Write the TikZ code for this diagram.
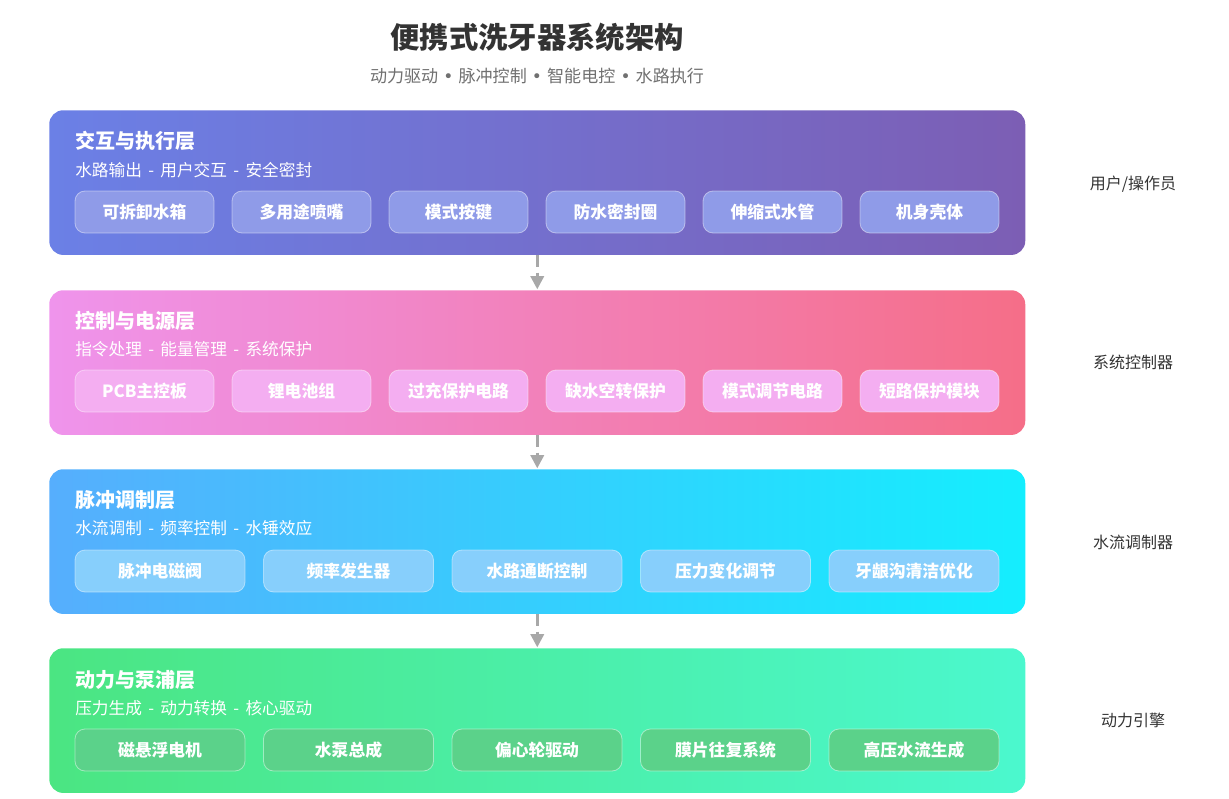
\documentclass[tikz,border=0pt]{standalone}
\usepackage{fontspec}
\setmainfont{Noto Sans CJK SC}
\newfontfamily\dotfont{DejaVu Sans}
\usetikzlibrary{arrows.meta,positioning}

\definecolor{titlegray}{HTML}{333333}
\definecolor{subgray}{HTML}{707070}
\definecolor{arrowgray}{HTML}{A8A8A8}
% layer gradients
\definecolor{userL}{HTML}{6B80E6}
\definecolor{userR}{HTML}{7C5EB4}
\definecolor{ctrlL}{HTML}{EF94EC}
\definecolor{ctrlR}{HTML}{F56E88}
\definecolor{pulseL}{HTML}{56AEFD}
\definecolor{pulseR}{HTML}{14EEFE}
\definecolor{powerL}{HTML}{4BE582}
\definecolor{powerR}{HTML}{4BF8CE}
% chip fills
\definecolor{userChip}{HTML}{8F9BE8}
\definecolor{ctrlChip}{HTML}{F4AEF1}
\definecolor{pulseChip}{HTML}{87CFFC}
\definecolor{powerChip}{HTML}{5BD28A}

\newcommand{\dsep}{\hspace{0.38em}-\hspace{0.38em}}
\newcommand{\bsep}{\hspace{0.3em}{\dotfont•}\hspace{0.3em}}

\tikzset{
  layer/.style={rounded corners=10.5pt, minimum width=732pt, minimum height=108.5pt,
    anchor=north west, inner sep=0pt},
  layertitle/.style={anchor=west, inner sep=0pt, text=white, font=\fontsize{15}{18}\selectfont\bfseries},
  layersub/.style={anchor=west, inner sep=0pt, text=white, font=\fontsize{12.5}{15}\selectfont},
  chip/.style={draw=white, draw opacity=0.45, line width=0.6pt, rounded corners=7.5pt,
    minimum height=31.5pt, inner sep=0pt, text=white, font=\fontsize{12.6}{14}\selectfont\bfseries},
  chipsix/.style={chip, minimum width=104.25pt},
  chipfive/.style={chip, minimum width=127.5pt},
  role/.style={inner sep=0pt, text=titlegray, font=\fontsize{12}{14}\selectfont},
  flow/.style={arrowgray, line width=2.2pt, dash pattern=on 9pt off 4pt,
    -{Triangle[length=10pt, width=10pt]}, shorten >=0.5pt}
}

\begin{document}
\begin{tikzpicture}[x=0.75pt,y=0.75pt,yscale=-1,xscale=1]
\useasboundingbox (0,0) rectangle (1229,799);

% Title
\node[text=titlegray, font=\fontsize{22}{26}\selectfont\bfseries] (title) at (537,37) {便携式洗牙器系统架构};
\node[text=subgray, font=\fontsize{12.8}{15}\selectfont] (subtitle) at (537,76)
  {动力驱动\bsep 脉冲控制\bsep 智能电控\bsep 水路执行};

% Layers
\node[layer, shade, left color=userL, right color=userR] (L1) at (49,110) {};
\node[layer, shade, left color=ctrlL, right color=ctrlR] (L2) at (49,290) {};
\node[layer, shade, left color=pulseL, right color=pulseR] (L3) at (49,469) {};
\node[layer, shade, left color=powerL, right color=powerR] (L4) at (49,648) {};

% Layer headings
\node[layertitle] (L1title) at (75,141) {交互与执行层};
\node[layersub] (L1sub) at (75,170) {水路输出\dsep 用户交互\dsep 安全密封};
\node[layertitle] (L2title) at (75,321) {控制与电源层};
\node[layersub] (L2sub) at (75,349) {指令处理\dsep 能量管理\dsep 系统保护};
\node[layertitle] (L3title) at (75,500) {脉冲调制层};
\node[layersub] (L3sub) at (75,528) {水流调制\dsep 频率控制\dsep 水锤效应};
\node[layertitle] (L4title) at (75,680) {动力与泵浦层};
\node[layersub] (L4sub) at (75,708) {压力生成\dsep 动力转换\dsep 核心驱动};

% Components
\foreach \t [count=\i from 0] in {可拆卸水箱,多用途喷嘴,模式按键,防水密封圈,伸缩式水管,机身壳体}
  \node[chipsix, fill=userChip] (c1-\i) at (144.5+157*\i,212) {\t};
\foreach \t [count=\i from 0] in {PCB主控板,锂电池组,过充保护电路,缺水空转保护,模式调节电路,短路保护模块}
  \node[chipsix, fill=ctrlChip] (c2-\i) at (144.5+157*\i,391) {\t};
\foreach \t [count=\i from 0] in {脉冲电磁阀,频率发生器,水路通断控制,压力变化调节,牙龈沟清洁优化}
  \node[chipfive, fill=pulseChip] (c3-\i) at (160+188.5*\i,571) {\t};
\foreach \t [count=\i from 0] in {磁悬浮电机,水泵总成,偏心轮驱动,膜片往复系统,高压水流生成}
  \node[chipfive, fill=powerChip] (c4-\i) at (160+188.5*\i,750) {\t};

% Flow between layers
\draw[flow] (L1.south) -- (L2.north);
\draw[flow] (L2.south) -- (L3.north);
\draw[flow] (L3.south) -- (L4.north);

% Roles
\node[role] (r1) at (1133,184) {用户/操作员};
\node[role] (r2) at (1133,362) {系统控制器};
\node[role] (r3) at (1133,542) {水流调制器};
\node[role] (r4) at (1133,720) {动力引擎};

\end{tikzpicture}
\end{document}
